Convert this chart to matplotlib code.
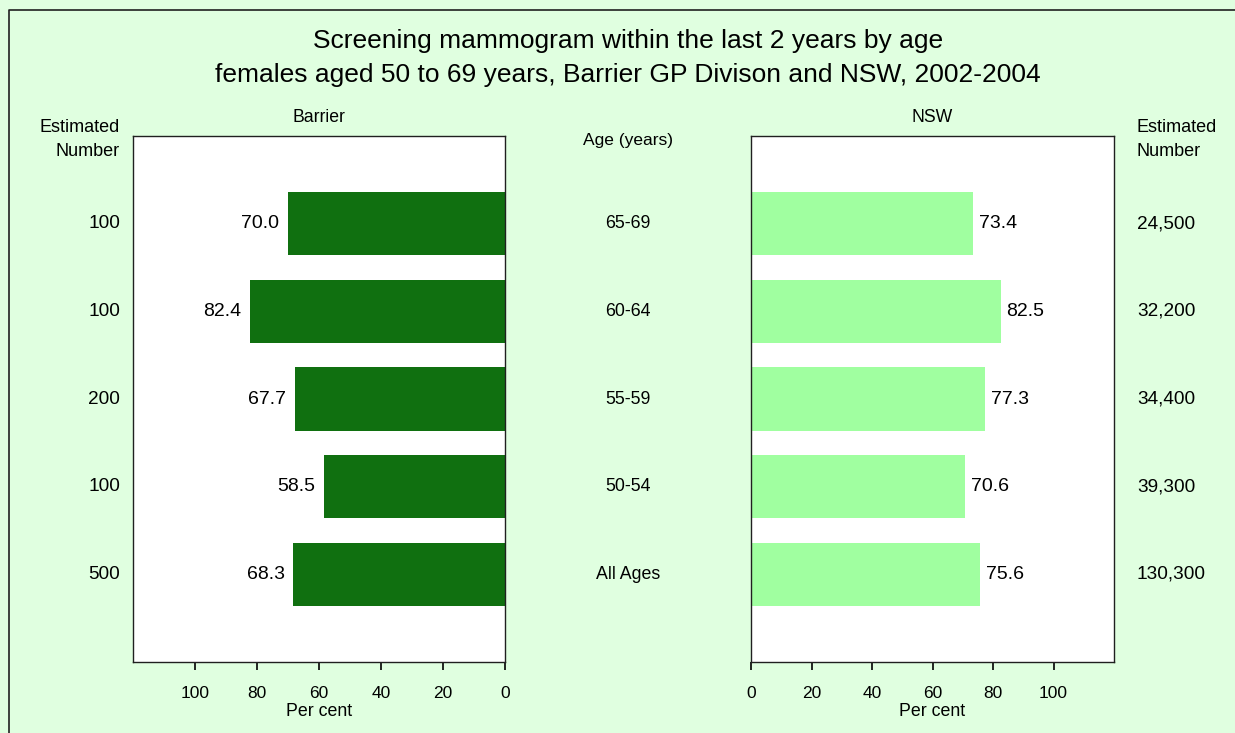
import matplotlib.pyplot as plt
from matplotlib.transforms import blended_transform_factory
from matplotlib.lines import Line2D

plt.rcParams['font.family'] = ['Liberation Sans', 'DejaVu Sans']

ages = ["65-69", "60-64", "55-59", "50-54", "All Ages"]
barrier = [70.0, 82.4, 67.7, 58.5, 68.3]
nsw = [73.4, 82.5, 77.3, 70.6, 75.6]
barrier_n = ["100", "100", "200", "100", "500"]
nsw_n = ["24,500", "32,200", "34,400", "39,300", "130,300"]
ticks = [0, 20, 40, 60, 80, 100]

bg = "#e0ffe0"
dark = "#107010"
light = "#a0ffa0"

W, H = 1235, 733
fig = plt.figure(figsize=(W / 100, H / 100), dpi=100, facecolor=bg)
# outer frame: only its top and left edges fall inside the picture
fx, fy = 9 / W, 1 - 10 / H
fig.add_artist(Line2D([fx, fx, 1.0], [0.0, fy, fy], transform=fig.transFigure,
                      color="#202020", linewidth=1.2))

def px(x0, x1, y0, y1):
    return [x0 / W, 1 - y1 / H, (x1 - x0) / W, (y1 - y0) / H]

axl = fig.add_axes(px(133, 505, 136, 662))
axr = fig.add_axes(px(751, 1114, 136, 662))

ypos = list(range(len(ages) - 1, -1, -1))

for ax, vals, col in [(axl, barrier, dark), (axr, nsw, light)]:
    ax.barh(ypos, vals, height=0.72, color=col)
    ax.set_ylim(-1, len(ages))
    ax.set_yticks([])
    ax.set_xticks(ticks)
    ax.tick_params(axis="x", direction="out", length=6, width=1.2, labelsize=12.5, pad=11)
    for s in ax.spines.values():
        s.set_color("#202020")
        s.set_linewidth(1)
    ax.set_xlabel("Per cent", fontsize=12.8, labelpad=2)

axl.set_xlim(120, 0)
axr.set_xlim(0, 120)

for y, v in zip(ypos, barrier):
    axl.text(v + 2.8, y, f"{v:.1f}", ha="right", va="center", fontsize=14)
for y, v in zip(ypos, nsw):
    axr.text(v + 2.0, y, f"{v:.1f}", ha="left", va="center", fontsize=14)

tl = blended_transform_factory(fig.transFigure, axl.transData)
for y, a, n1, n2 in zip(ypos, ages, barrier_n, nsw_n):
    fig.text(120 / W, y, n1, transform=tl, ha="right", va="center", fontsize=13.7)
    fig.text(628 / W, y, a, transform=tl, ha="center", va="center", fontsize=12.8)
    fig.text(1137 / W, y, n2, transform=tl, ha="left", va="center", fontsize=13.7)

fig.text(628 / W, 1 - 41 / H, "Screening mammogram within the last 2 years by age",
         ha="center", va="center", fontsize=19)
fig.text(628 / W, 1 - 75 / H, "females aged 50 to 69 years, Barrier GP Divison and NSW, 2002-2004",
         ha="center", va="center", fontsize=19)
fig.text(319 / W, 1 - 118 / H, "Barrier", ha="center", va="center", fontsize=12.7)
fig.text(932 / W, 1 - 118 / H, "NSW", ha="center", va="center", fontsize=12.7)
fig.text(628 / W, 1 - 140 / H, "Age (years)", ha="center", va="center", fontsize=12.5)
fig.text(120 / W, 1 - 128 / H, "Estimated", ha="right", va="center", fontsize=13)
fig.text(120 / W, 1 - 151 / H, "Number", ha="right", va="center", fontsize=13)
fig.text(1137 / W, 1 - 128 / H, "Estimated", ha="left", va="center", fontsize=13)
fig.text(1137 / W, 1 - 151 / H, "Number", ha="left", va="center", fontsize=13)

fig.savefig("out.png", dpi=100, facecolor=bg)
